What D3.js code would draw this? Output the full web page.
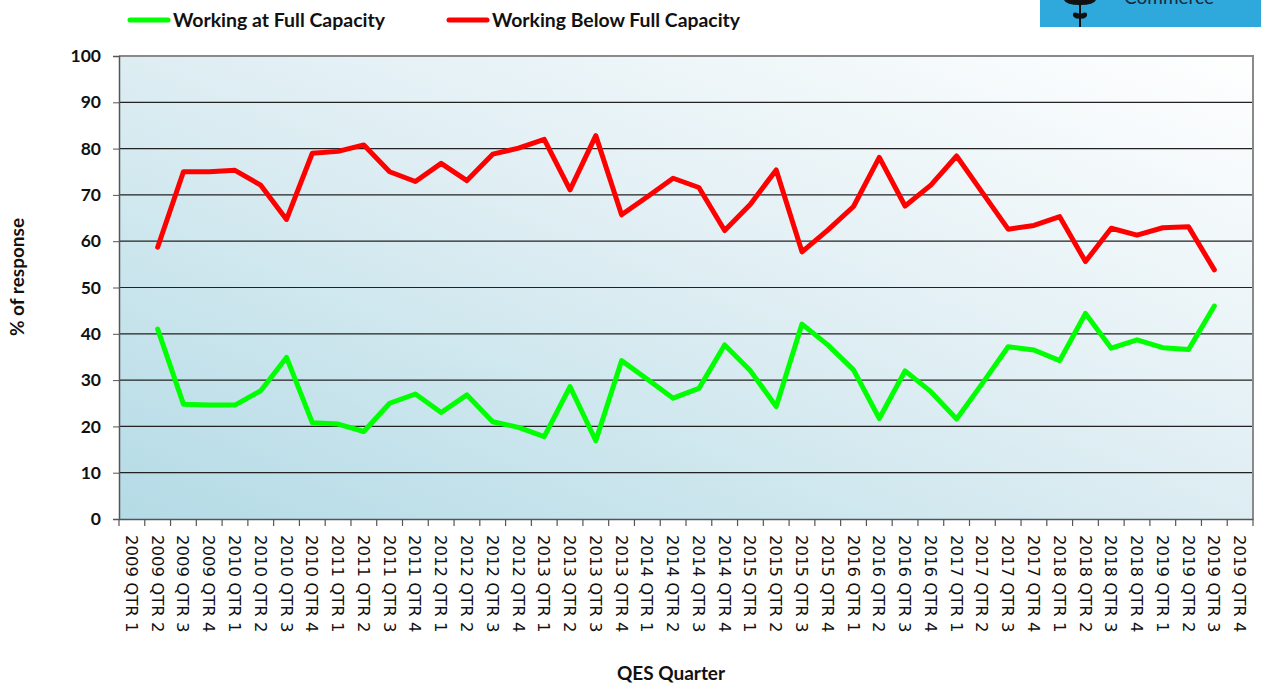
<!DOCTYPE html>
<html><head><meta charset="utf-8">
<script src="https://cdn.jsdelivr.net/npm/d3@7"></script>
<style>body{margin:0;background:#fff}svg{display:block}</style>
</head><body>
<svg id="c" width="1261" height="684"></svg>
<script>
const categories = [];
const years = [2009,2010,2011,2012,2013,2014,2015,2016,2017,2018,2019];
years.forEach(y => [1,2,3,4].forEach(q => categories.push(y + " QTR " + q)));

const fullCapacity = [null,41.0,24.8,24.6,24.6,27.7,34.9,20.8,20.5,18.9,25.0,27.0,23.0,26.8,21.0,19.8,17.8,28.6,16.9,34.2,30.2,26.1,28.2,37.6,32.0,24.3,42.1,37.6,32.2,21.7,32.0,27.5,21.6,29.3,37.2,36.5,34.2,44.4,36.9,38.7,37.0,36.6,46.0,null];
const belowCapacity = [null,58.7,75.0,75.0,75.3,72.1,64.7,79.0,79.4,80.8,75.0,72.9,76.8,73.1,78.8,80.1,82.0,71.1,82.8,65.7,69.6,73.6,71.6,62.3,68.0,75.4,57.7,62.4,67.5,78.1,67.6,72.1,78.4,70.5,62.6,63.4,65.3,55.6,62.8,61.3,62.9,63.1,53.8,null];
const yTicks = [0,10,20,30,40,50,60,70,80,90,100];
const seriesNames = ["Working at Full Capacity","Working Below Full Capacity"];
const seriesColors = ["#00ff00","#ff0000"];

const svg = d3.select("#c");
const L = 119, R = 1253, T = 56, B = 519;
const x = d3.scaleBand().domain(categories).range([L, R]);
const y = d3.scaleLinear().domain([0,100]).range([B, T]);

// background gradient
const defs = svg.append("defs");
const g = defs.append("linearGradient").attr("id","bg").attr("x1","0%").attr("y1","100%").attr("x2","100%").attr("y2","0%");
g.append("stop").attr("offset","0%").attr("stop-color","#b4dbe6");
g.append("stop").attr("offset","55%").attr("stop-color","#e1eff4");
g.append("stop").attr("offset","100%").attr("stop-color","#ffffff");
svg.append("rect").attr("x",L).attr("y",T).attr("width",R-L).attr("height",B-T).attr("fill","url(#bg)");

// gridlines
svg.append("g").selectAll("line").data(yTicks.filter(d=>d>0)).join("line")
  .attr("x1",L).attr("x2",R).attr("y1",d=>y(d)).attr("y2",d=>y(d))
  .attr("stroke","#222").attr("stroke-width",1.2);

// border top/right
svg.append("path").attr("d",`M${L},${T}H${R}V${B}`).attr("fill","none").attr("stroke","#8a8a8a").attr("stroke-width",2);

// y axis
const yAxis = svg.append("g").attr("transform",`translate(${L},0)`)
  .call(d3.axisLeft(y).tickValues(yTicks).tickSize(6).tickPadding(12));
yAxis.select(".domain").attr("stroke","#555").attr("stroke-width",1.5);
yAxis.selectAll(".tick line").attr("stroke","#555");
yAxis.selectAll("text").attr("font-family","Lato").attr("font-weight","bold").attr("font-size",17.5).attr("fill","#111");

// x axis
const xAxis = svg.append("g").attr("transform",`translate(0,${B})`)
  .call(d3.axisBottom(x).tickSize(0).tickSizeOuter(0));
xAxis.select(".domain").attr("stroke","#555").attr("stroke-width",1.5);
xAxis.selectAll(".tick text")
  .attr("font-family","DejaVu Sans").attr("font-size",16.5).attr("fill","#111")
  .attr("text-anchor","start")
  .attr("transform","translate(0,16) rotate(90)")
  .attr("x",0).attr("y",0).attr("dy","0.36em");
// boundary ticks
const bounds = categories.map(c => x(c)).concat([R]);
svg.append("g").selectAll("line").data(bounds).join("line")
  .attr("x1",d=>d).attr("x2",d=>d).attr("y1",B).attr("y2",B+7)
  .attr("stroke","#555").attr("stroke-width",1.2);

// lines
const line = d3.line().defined(d=>d.v!=null).x(d=>x(d.c)+x.bandwidth()/2).y(d=>y(d.v));
[fullCapacity, belowCapacity].forEach((s,i) => {
  svg.append("path").datum(s.map((v,j)=>({c:categories[j],v})))
    .attr("d",line).attr("fill","none").attr("stroke",seriesColors[i])
    .attr("stroke-width",5).attr("stroke-linejoin","round").attr("stroke-linecap","round");
});

// legend
const legX = [130, 449];
const legW = [212, 248];
seriesNames.forEach((n,i) => {
  svg.append("line").attr("x1",legX[i]).attr("x2",legX[i]+38).attr("y1",20).attr("y2",20)
    .attr("stroke",seriesColors[i]).attr("stroke-width",5).attr("stroke-linecap","round");
  svg.append("text").attr("x",legX[i]+43).attr("y",27).text(n)
    .attr("font-family","Lato").attr("font-weight","bold").attr("font-size",19).attr("fill","#111")
    .attr("textLength",legW[i]).attr("lengthAdjust","spacingAndGlyphs");
});

// axis titles
svg.append("text").attr("transform","translate(24,277) rotate(-90)").attr("text-anchor","middle")
  .attr("font-family","Lato").attr("font-weight","bold").attr("font-size",19).attr("fill","#111").text("% of response");
svg.append("text").attr("x",671).attr("y",680).attr("text-anchor","middle")
  .attr("font-family","Lato").attr("font-weight","bold").attr("font-size",19).attr("fill","#111").text("QES Quarter");

// logo fragment
svg.append("rect").attr("x",1040).attr("y",0).attr("width",221).attr("height",27).attr("fill","#2fa8dc");
svg.append("text").attr("x",1124).attr("y",4).attr("font-family","Lato").attr("font-size",19).attr("fill","#1a2a3a").text("Commerce");
svg.append("path").attr("d","M1064,0 Q1066,5 1080,5 Q1094,5 1096,0 Z").attr("fill","#111");
svg.append("line").attr("x1",1080).attr("x2",1080).attr("y1",0).attr("y2",27).attr("stroke","#111").attr("stroke-width",2);
svg.append("path").attr("d","M1080,14 Q1072,10 1073,16 Q1076,20 1080,18 Z M1080,14 Q1088,10 1087,16 Q1084,20 1080,18 Z").attr("fill","#111");
</script>
</body></html>
